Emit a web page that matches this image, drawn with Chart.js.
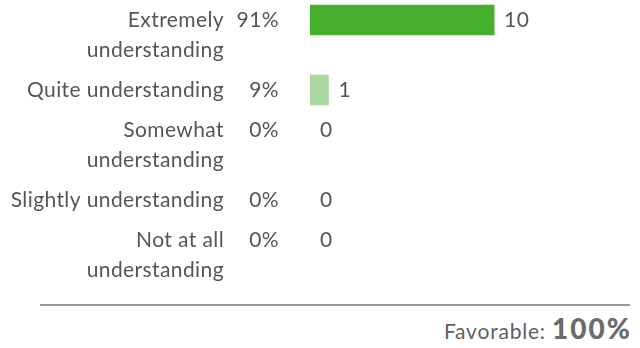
<!DOCTYPE html>
<html>
<head>
<meta charset="utf-8">
<script src="https://cdn.jsdelivr.net/npm/chart.js@4/dist/chart.umd.min.js"></script>
<style>
  html, body { margin: 0; padding: 0; background: #fff; }
  body { width: 640px; height: 348px; position: relative; overflow: hidden; font-family: Lato, sans-serif; }
  #wrap { position: absolute; left: 0; top: 0; width: 640px; height: 290px; }
  #rule { position: absolute; left: 40px; top: 304px; width: 590px; height: 2px; background: #9a9a9a; }
  #fav { position: absolute; right: 8px; top: 311px; color: #5f5f5f; font-size: 21px; letter-spacing: 0.8px; white-space: nowrap; }
  #fav b { font-size: 28px; font-weight: 900; color: #6b6b6b; letter-spacing: 2px; }
</style>
</head>
<body>
<div id="wrap"><canvas id="chart"></canvas></div>
<div id="rule"></div>
<div id="fav">Favorable: <b id="favValue"></b></div>

<script>
// Respostas por categoria
const categories = [
    ['Extremely', 'understanding'],
    ['Quite understanding'],
    ['Somewhat', 'understanding'],
    ['Slightly understanding'],
    ['Not at all', 'understanding']
];
const counts = [10, 1, 0, 0, 0];
const barColors = ['#47b02f', '#acd8a0', '#47b02f', '#47b02f', '#47b02f'];
const favorableIdx = [0, 1]; // top-2 box

const LINE_H = 30;
const ROW_GAP = 10;
const FONT = '21px Lato, sans-serif';
const TEXT_COLOR = '#555';

const total = counts.reduce((a, b) => a + b, 0);
const pct = counts.map(c => Math.round(c / total * 100));

// cada linha ocupa altura conforme o nº de linhas do rótulo
const rowPos = [];
let acc = 0;
categories.forEach(lines => {
    rowPos.push(acc);
    acc += lines.length * LINE_H + ROW_GAP;
});

const favorable = favorableIdx.reduce((s, i) => s + counts[i], 0);
document.getElementById('favValue').textContent = Math.round(favorable / total * 100) + '%';

// Textos à esquerda (rótulo + %) e contagem ao final da barra
const rowText = {
    id: 'rowText',
    afterDatasetsDraw(chart) {
        const ctx = chart.ctx;
        const meta = chart.getDatasetMeta(0);
        ctx.save();
        ctx.font = FONT;
        ctx.letterSpacing = '0.4px';
        ctx.fillStyle = TEXT_COLOR;
        ctx.textBaseline = 'middle';
        meta.data.forEach((bar, i) => {
            const y = bar.y;
            ctx.textAlign = 'right';
            categories[i].forEach((line, k) => {
                ctx.fillText(line, 224, y + k * LINE_H);
            });
            ctx.fillText(pct[i] + '%', 279, y);
            ctx.textAlign = 'left';
            ctx.fillText(String(counts[i]), bar.x + 10, y);
        });
        ctx.restore();
    }
};

new Chart(document.getElementById('chart'), {
    type: 'bar',
    data: {
        datasets: [{
            data: counts.map((c, i) => ({ x: c, y: rowPos[i] })),
            // barras zeradas não devem deixar risco
            backgroundColor: counts.map((c, i) => c > 0 ? barColors[i] : 'rgba(0,0,0,0)'),
            borderWidth: 0,
            barThickness: 30
        }]
    },
    options: {
        indexAxis: 'y',
        responsive: true,
        maintainAspectRatio: false,
        animation: false,
        layout: { padding: { left: 310, right: 17, top: 0, bottom: 0 } },
        scales: {
            x: { type: 'linear', min: 0, max: 17, display: false },
            y: { type: 'linear', reverse: true, offset: false, min: -20, max: 270, display: false }
        },
        plugins: {
            legend: { display: false },
            tooltip: { enabled: false }
        }
    },
    plugins: [rowText]
});
</script>
</body>
</html>
